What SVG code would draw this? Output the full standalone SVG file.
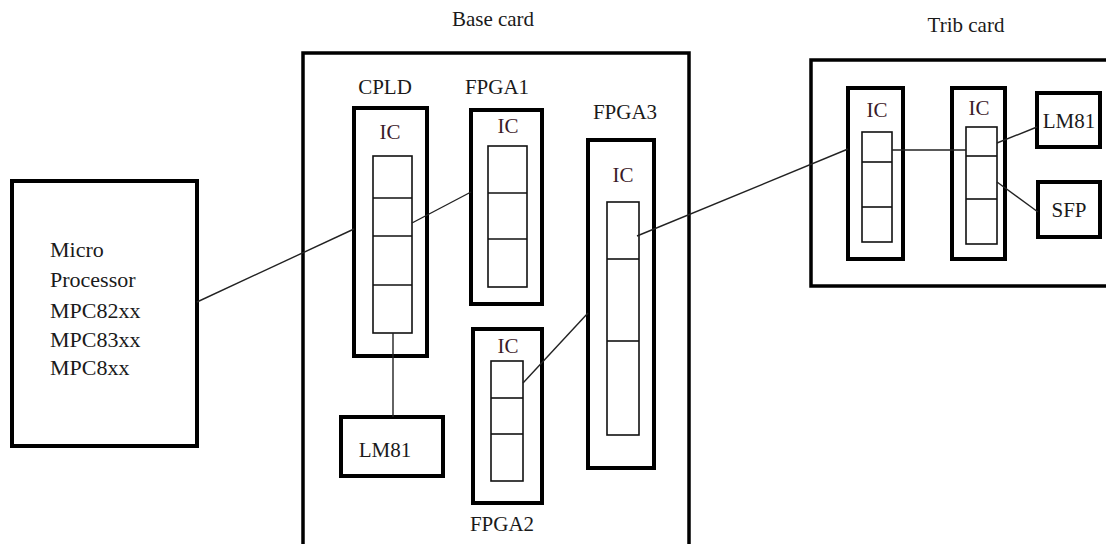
<svg xmlns="http://www.w3.org/2000/svg" width="1106" height="544" viewBox="0 0 1106 544" font-family="'Liberation Serif', 'Times New Roman', serif">
<style>
.box{fill:none;stroke:#000;stroke-width:4}
.card{fill:none;stroke:#000;stroke-width:3.5}
.inner{fill:none;stroke:#111;stroke-width:1.6}
.div{stroke:#111;stroke-width:1.6}
.wire{stroke:#222;stroke-width:1.4;fill:none}
text{font-family:'Liberation Serif', 'Times New Roman', serif;font-size:21px;fill:#1a1a1a}
.ic{fill:#3a1a28;text-anchor:middle}
.mid{text-anchor:middle}
.mp{font-size:22px}
</style>
<rect width="1106" height="544" fill="#fff"/>

<g id="micro">
<rect class="box" x="12" y="181" width="185" height="265"/>
<text class="mp" x="50" y="257">Micro</text>
<text class="mp" x="50" y="287">Processor</text>
<text class="mp" x="50" y="318">MPC82xx</text>
<text class="mp" x="50" y="347">MPC83xx</text>
<text class="mp" x="50" y="375">MPC8xx</text>
</g>

<g id="base-card">
<rect class="card" x="303" y="53" width="386" height="520"/>
<text class="mid" x="493" y="26">Base card</text>
</g>

<g id="cpld">
<text class="mid" x="385" y="94">CPLD</text>
<rect class="box" x="354" y="108" width="73" height="248"/>
<text class="ic" x="390" y="139">IC</text>
<rect class="inner" x="373" y="156" width="39" height="177"/>
<line class="div" x1="373" y1="198" x2="412" y2="198"/>
<line class="div" x1="373" y1="236" x2="412" y2="236"/>
<line class="div" x1="373" y1="285" x2="412" y2="285"/>
</g>

<g id="fpga1">
<text class="mid" x="497" y="94">FPGA1</text>
<rect class="box" x="471" y="110" width="71" height="194"/>
<text class="ic" x="508" y="133">IC</text>
<rect class="inner" x="488" y="146" width="39" height="141"/>
<line class="div" x1="488" y1="193" x2="527" y2="193"/>
<line class="div" x1="488" y1="239" x2="527" y2="239"/>
</g>

<g id="fpga3">
<text class="mid" x="625" y="119">FPGA3</text>
<rect class="box" x="588" y="140" width="66" height="328"/>
<text class="ic" x="623" y="182">IC</text>
<rect class="inner" x="607" y="202" width="32" height="233"/>
<line class="div" x1="607" y1="259" x2="639" y2="259"/>
<line class="div" x1="607" y1="341" x2="639" y2="341"/>
</g>

<g id="fpga2">
<rect class="box" x="473" y="329" width="69" height="174"/>
<text class="ic" x="508" y="353">IC</text>
<rect class="inner" x="491" y="361" width="32" height="120"/>
<line class="div" x1="491" y1="398" x2="523" y2="398"/>
<line class="div" x1="491" y1="434" x2="523" y2="434"/>
<text class="mid" x="502" y="531">FPGA2</text>
</g>

<g id="lm81-base">
<rect class="box" x="341" y="417" width="102" height="59"/>
<text class="mid" x="385" y="457">LM81</text>
</g>

<g id="trib-card">
<rect class="card" x="811" y="60" width="310" height="226"/>
<text class="mid" x="966" y="32">Trib card</text>
</g>

<g id="trib-ic1">
<rect class="box" x="848" y="88" width="55" height="171"/>
<text class="ic" x="877" y="117">IC</text>
<rect class="inner" x="862" y="132" width="30" height="110"/>
<line class="div" x1="862" y1="162" x2="892" y2="162"/>
<line class="div" x1="862" y1="207" x2="892" y2="207"/>
</g>

<g id="trib-ic2">
<rect class="box" x="952" y="88" width="53" height="171"/>
<text class="ic" x="979" y="115">IC</text>
<rect class="inner" x="966" y="127" width="31" height="117"/>
<line class="div" x1="966" y1="156" x2="997" y2="156"/>
<line class="div" x1="966" y1="199" x2="997" y2="199"/>
</g>

<g id="lm81-trib">
<rect class="box" x="1037" y="93" width="63" height="54"/>
<text class="mid" x="1069" y="128">LM81</text>
</g>

<g id="sfp">
<rect class="box" x="1038" y="182" width="62" height="55"/>
<text class="mid" x="1069" y="217">SFP</text>
</g>

<g id="connectors">
<line class="wire" x1="197" y1="302" x2="354" y2="229"/>
<line class="wire" x1="412" y1="223" x2="471" y2="192"/>
<line class="wire" x1="393" y1="333" x2="393" y2="417"/>
<line class="wire" x1="523" y1="383" x2="588" y2="313"/>
<line class="wire" x1="637" y1="236" x2="848" y2="149"/>
<line class="wire" x1="892" y1="150" x2="966" y2="150"/>
<line class="wire" x1="997" y1="143" x2="1037" y2="127"/>
<line class="wire" x1="997" y1="182" x2="1038" y2="212"/>
</g>
</svg>
